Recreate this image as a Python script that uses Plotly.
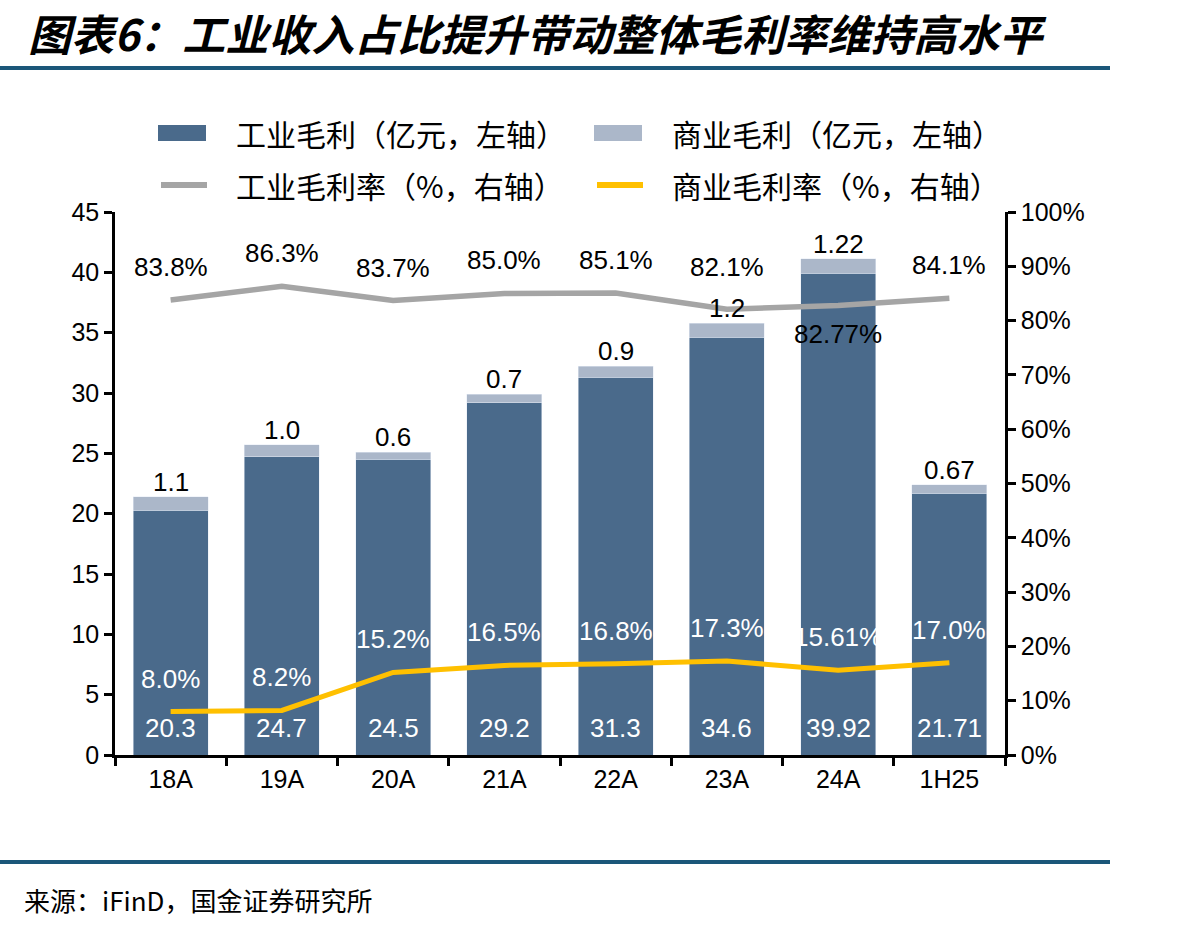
import plotly.graph_objects as go

categories = ["18A", "19A", "20A", "21A", "22A", "23A", "24A", "1H25"]
ind_profit = [20.3, 24.7, 24.5, 29.2, 31.3, 34.6, 39.92, 21.71]
com_profit = [1.1, 1.0, 0.6, 0.7, 0.9, 1.2, 1.22, 0.67]
ind_profit_labels = ["20.3", "24.7", "24.5", "29.2", "31.3", "34.6", "39.92", "21.71"]
com_profit_labels = ["1.1", "1.0", "0.6", "0.7", "0.9", "1.2", "1.22", "0.67"]
ind_margin = [0.838, 0.863, 0.837, 0.850, 0.851, 0.821, 0.8277, 0.841]
com_margin = [0.080, 0.082, 0.152, 0.165, 0.168, 0.173, 0.1561, 0.170]
ind_margin_labels = ["83.8%", "86.3%", "83.7%", "85.0%", "85.1%", "82.1%", "82.77%", "84.1%"]
com_margin_labels = ["8.0%", "8.2%", "15.2%", "16.5%", "16.8%", "17.3%", "15.61%", "17.0%"]
ind_margin_shift = [33, 33, 33, 33, 33, 42, -28, 33]

DARK = "#4a6a8b"
LIGHT = "#abb7c9"
GRAY = "#a5a5a5"
YELLOW = "#ffc000"
NUMFONT = "Liberation Sans, Arial, sans-serif"
CJK = "Noto Sans CJK SC"

W, H = 1198, 932
L, R, T, B = 115, 1005, 212, 755


def px(xp):
    return (xp - L) / (R - L)


def py(yp):
    return (B - yp) / (B - T)


fig = go.Figure()
fig.add_trace(go.Bar(x=categories, y=ind_profit, marker_color=DARK, width=0.675,
                     name="工业毛利（亿元，左轴）", showlegend=False))
fig.add_trace(go.Bar(x=categories, y=com_profit, marker_color=LIGHT, width=0.675,
                     name="商业毛利（亿元，左轴）", showlegend=False))
fig.add_trace(go.Scatter(x=categories, y=ind_margin, yaxis="y2", mode="lines",
                         line=dict(color=GRAY, width=5.5), name="工业毛利率（%，右轴）",
                         showlegend=False))
fig.add_trace(go.Scatter(x=categories, y=com_margin, yaxis="y2", mode="lines",
                         line=dict(color=YELLOW, width=5), name="商业毛利率（%，右轴）",
                         showlegend=False))

ann = []
for i, c in enumerate(categories):
    ann.append(dict(x=c, y=0, xref="x", yref="y", text=ind_profit_labels[i], showarrow=False,
                    yshift=27, font=dict(family=NUMFONT, size=26, color="white")))
    ann.append(dict(x=c, y=ind_profit[i] + com_profit[i], xref="x", yref="y",
                    text=com_profit_labels[i], showarrow=False, yshift=15,
                    font=dict(family=NUMFONT, size=26, color="black")))
    ann.append(dict(x=c, y=ind_margin[i], xref="x", yref="y2", text=ind_margin_labels[i],
                    showarrow=False, yshift=ind_margin_shift[i],
                    font=dict(family=NUMFONT, size=26, color="black")))
    ann.append(dict(x=c, y=com_margin[i], xref="x", yref="y2", text=com_margin_labels[i],
                    showarrow=False, yshift=33,
                    font=dict(family=NUMFONT, size=26, color="white")))

# Title and source
ann.append(dict(x=px(26), y=py(32), xref="paper", yref="paper", xanchor="left", yanchor="middle",
                text="<b>图表6：工业收入占比提升带动整体毛利率维持高水平</b>", showarrow=False,
                font=dict(family=CJK, size=43, color="black", style="italic")))
ann.append(dict(x=px(22), y=py(900), xref="paper", yref="paper", xanchor="left", yanchor="middle",
                text="来源：iFinD，国金证券研究所", showarrow=False,
                font=dict(family=CJK, size=26, color="black")))

# Manual legend
legend_items = [
    ("rect", DARK, 158, 133, "工业毛利（亿元，左轴）"),
    ("rect", LIGHT, 594, 133, "商业毛利（亿元，左轴）"),
    ("line", GRAY, 158, 185, "工业毛利率（%，右轴）"),
    ("line", YELLOW, 594, 185, "商业毛利率（%，右轴）"),
]
shapes = []
for kind, col, x0, yc, label in legend_items:
    if kind == "rect":
        shapes.append(dict(type="rect", xref="paper", yref="paper", x0=px(x0), x1=px(x0 + 48),
                           y0=py(yc + 8), y1=py(yc - 8), fillcolor=col, line=dict(width=0)))
    else:
        shapes.append(dict(type="line", xref="paper", yref="paper", x0=px(x0 + 3), x1=px(x0 + 49),
                           y0=py(yc), y1=py(yc), line=dict(color=col, width=6)))
    ann.append(dict(x=px(x0 + 76), y=py(yc), xref="paper", yref="paper", xanchor="left",
                    yanchor="middle", text=label, showarrow=False,
                    font=dict(family=CJK, size=30, color="black")))

# Separator lines
for yl in (68, 862):
    shapes.append(dict(type="line", xref="paper", yref="paper", x0=px(0), x1=px(1110),
                       y0=py(yl), y1=py(yl), line=dict(color="#1b5779", width=4)))

fig.update_layout(
    width=W, height=H,
    margin=dict(l=L, r=W - R, t=T, b=H - B, pad=0),
    paper_bgcolor="white", plot_bgcolor="white",
    barmode="stack", bargap=0.325,
    annotations=ann, shapes=shapes,
    xaxis=dict(type="category", range=[-0.5, 7.5], showline=True, linecolor="black", linewidth=2.5,
               ticks="outside", tickson="boundaries", ticklen=8, tickwidth=2.5, tickcolor="black",
               showgrid=False, tickfont=dict(family=NUMFONT, size=25, color="black")),
    yaxis=dict(range=[0, 45], dtick=5, showline=True, linecolor="black", linewidth=2.5,
               ticks="outside", ticklen=8, tickwidth=2.5, tickcolor="black", showgrid=False,
               zeroline=False, tickfont=dict(family=NUMFONT, size=25, color="black")),
    yaxis2=dict(range=[0, 1], dtick=0.1, tickformat=".0%", overlaying="y", side="right",
                showline=True, linecolor="black", linewidth=2.5, ticks="outside", ticklen=8,
                tickwidth=2.5, tickcolor="black", showgrid=False, zeroline=False,
                tickfont=dict(family=NUMFONT, size=25, color="black")),
    showlegend=False,
)

fig.write_html("out.html")
